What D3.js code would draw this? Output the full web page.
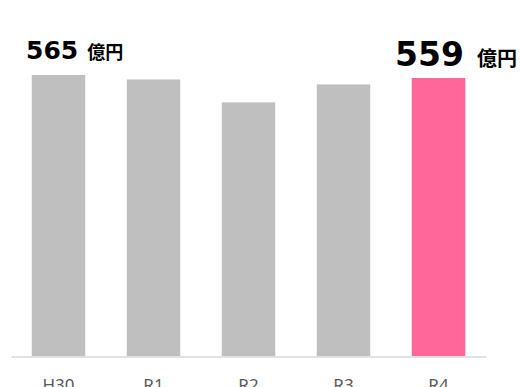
<!DOCTYPE html>
<html><head><meta charset="utf-8">
<script src="https://cdn.jsdelivr.net/npm/d3@7"></script>
<style>html,body{margin:0;padding:0;background:#fff;overflow:hidden}</style>
</head><body>
<svg id="c" width="520" height="387"></svg>
<script>
const categories = ["H30", "R1", "R2", "R3", "R4"];
const values = [565, 556, 510, 546, 559];
const unit = "億円";

const svg = d3.select("#c");
const x = d3.scaleBand().domain(categories).range([11, 486]).paddingInner(0.437).paddingOuter(0.2185);
const y = d3.scaleLinear().domain([0, 565]).range([356, 75]);

svg.selectAll("rect.bar").data(categories).enter().append("rect")
  .attr("x", d => x(d)).attr("width", x.bandwidth())
  .attr("y", (d, i) => y(values[i])).attr("height", (d, i) => y(0) - y(values[i]))
  .attr("fill", (d, i) => i === categories.length - 1 ? "#ff6699" : "#bfbfbf");

const axis = svg.append("g").attr("transform", "translate(0,356.5)")
  .call(d3.axisBottom(x).tickSize(0).tickPadding(0));
axis.select(".domain").attr("stroke", "#d9d9d9").attr("stroke-width", 1.5);
axis.selectAll("text").attr("dy", null).attr("y", 34)
  .attr("font-family", "'Noto Sans', 'DejaVu Sans', sans-serif").attr("font-size", 17)
  .attr("fill", "#595959");

// value labels
const font = "'DejaVu Sans', 'Noto Sans CJK JP', sans-serif";
const cjk = "'Noto Sans CJK JP', sans-serif";
const first = svg.append("text").attr("x", 26).attr("y", 59).attr("font-family", font).attr("font-weight", "bold").attr("fill", "#000");
first.append("tspan").attr("font-size", 25).text(values[0]);
first.append("tspan").attr("font-family", cjk).attr("font-size", 18).attr("dx", 9).text(unit);

const last = svg.append("text").attr("x", 395).attr("y", 66).attr("font-family", font).attr("font-weight", "bold").attr("fill", "#000");
last.append("tspan").attr("font-size", 33).text(values[values.length - 1]);
last.append("tspan").attr("font-family", cjk).attr("font-size", 20).attr("dx", 13).text(unit);
</script>
</body></html>
